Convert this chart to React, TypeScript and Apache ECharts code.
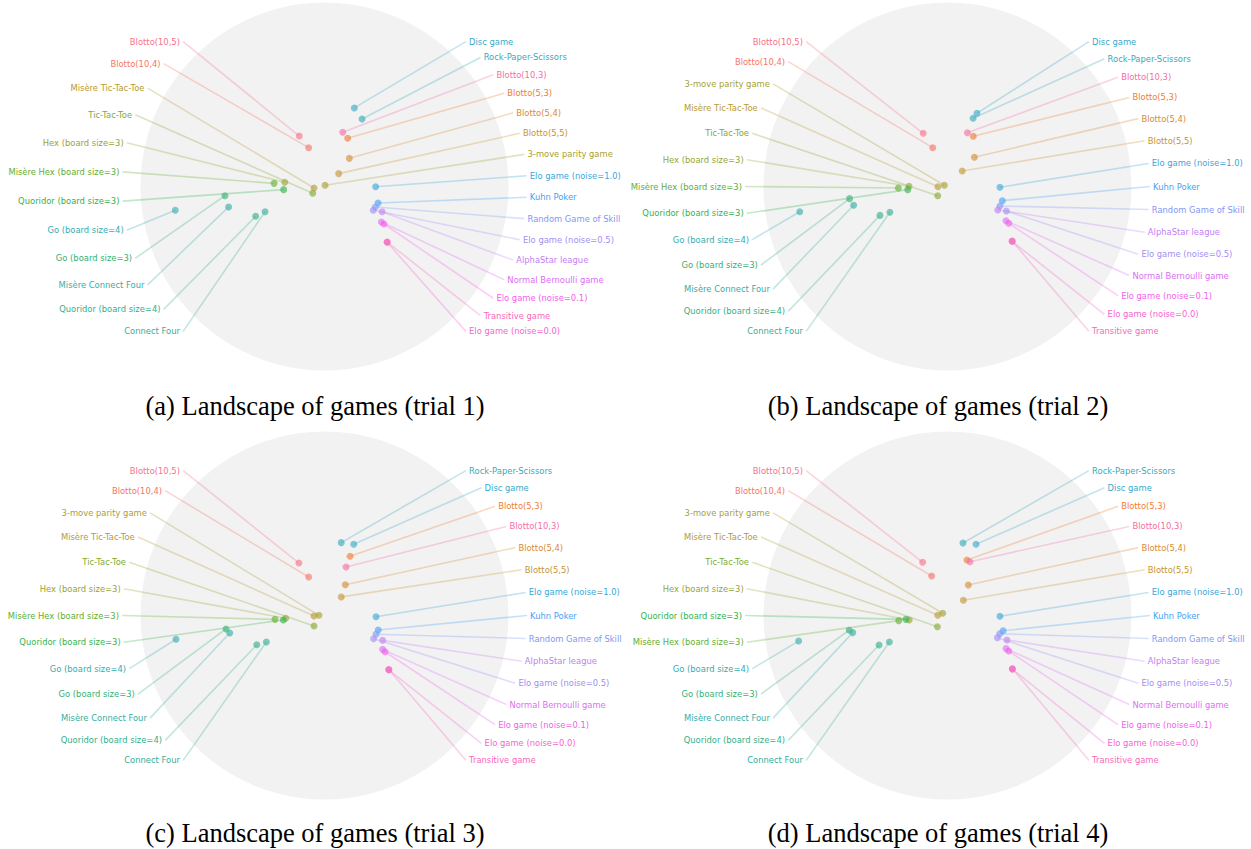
import React, { useEffect, useRef } from "react";
import * as echarts from "echarts";

// ---------------- DATA ----------------
// Games, ordered by their palette index (husl palette, 28 colours)
const GAMES = [
  "Blotto(10,5)", "Blotto(10,4)", "Blotto(5,3)", "Blotto(5,4)", "Blotto(5,5)",
  "Misère Tic-Tac-Toe", "3-move parity game", "Hex (board size=3)", "Tic-Tac-Toe",
  "Misère Hex (board size=3)", "Quoridor (board size=3)", "Go (board size=3)",
  "Quoridor (board size=4)", "Connect Four", "Misère Connect Four", "Go (board size=4)",
  "Rock-Paper-Scissors", "Disc game", "Elo game (noise=1.0)", "Kuhn Poker",
  "Random Game of Skill", "Elo game (noise=0.5)", "AlphaStar league",
  "Normal Bernoulli game", "Elo game (noise=0.1)", "Elo game (noise=0.0)",
  "Transitive game", "Blotto(10,3)",
];

// 2-D embedding of every game (same order as GAMES), one array per trial
const TRIAL_1 = [
  [-0.137, 0.274], [-0.086, 0.211], [0.126, 0.262], [0.135, 0.153], [0.077, 0.07],
  [-0.057, -0.008], [0.003, 0.007], [-0.216, 0.023], [-0.064, -0.037],
  [-0.274, 0.017], [-0.222, -0.017], [-0.541, -0.05],
  [-0.374, -0.162], [-0.323, -0.137], [-0.521, -0.111], [-0.811, -0.129],
  [0.204, 0.367], [0.162, 0.427], [0.278, -0.001], [0.291, -0.09],
  [0.276, -0.111], [0.265, -0.129], [0.313, -0.137],
  [0.309, -0.193], [0.323, -0.204], [0.34, -0.303],
  [0.341, -0.302], [0.099, 0.295],
];
const TRIAL_2 = [
  [-0.132, 0.289], [-0.08, 0.211], [0.14, 0.273], [0.146, 0.159], [0.08, 0.084],
  [-0.052, -0.001], [-0.017, 0.007], [-0.209, 0.001], [-0.053, -0.05],
  [-0.267, -0.008], [-0.216, -0.017], [-0.532, -0.066],
  [-0.367, -0.157], [-0.313, -0.14], [-0.51, -0.102], [-0.803, -0.137],
  [0.139, 0.371], [0.16, 0.398], [0.285, -0.004], [0.298, -0.077],
  [0.285, -0.106], [0.32, -0.133], [0.273, -0.128],
  [0.318, -0.186], [0.333, -0.2], [0.351, -0.298],
  [0.352, -0.297], [0.108, 0.292],
];
const TRIAL_3 = [
  [-0.139, 0.285], [-0.086, 0.209], [0.139, 0.322], [0.113, 0.167], [0.091, 0.101],
  [-0.057, -0.003], [-0.03, 0.001], [-0.211, -0.015], [-0.057, -0.057],
  [-0.269, -0.021], [-0.224, -0.024], [-0.535, -0.073],
  [-0.368, -0.159], [-0.316, -0.144], [-0.515, -0.095], [-0.807, -0.129],
  [0.091, 0.396], [0.159, 0.387], [0.28, -0.007], [0.292, -0.079],
  [0.28, -0.102], [0.267, -0.126], [0.316, -0.135],
  [0.316, -0.184], [0.329, -0.197], [0.349, -0.295],
  [0.35, -0.294], [0.117, 0.264],
];
const TRIAL_4 = [
  [-0.135, 0.289], [-0.086, 0.215], [0.106, 0.302], [0.113, 0.166], [0.086, 0.083],
  [-0.053, 0.001], [-0.026, 0.012], [-0.208, -0.024], [-0.055, -0.061],
  [-0.265, -0.028], [-0.226, -0.021], [-0.534, -0.08],
  [-0.372, -0.16], [-0.316, -0.144], [-0.515, -0.093], [-0.809, -0.139],
  [0.084, 0.394], [0.155, 0.387], [0.285, -0.004], [0.302, -0.083],
  [0.284, -0.099], [0.271, -0.121], [0.323, -0.133],
  [0.318, -0.18], [0.333, -0.193], [0.352, -0.291],
  [0.353, -0.29], [0.122, 0.292],
];

// Label order (top to bottom) on each side of each trial
const LEFT_1 = ["Blotto(10,5)", "Blotto(10,4)", "Misère Tic-Tac-Toe", "Tic-Tac-Toe", "Hex (board size=3)", "Misère Hex (board size=3)", "Quoridor (board size=3)", "Go (board size=4)", "Go (board size=3)", "Misère Connect Four", "Quoridor (board size=4)", "Connect Four"];
const RIGHT_1 = ["Disc game", "Rock-Paper-Scissors", "Blotto(10,3)", "Blotto(5,3)", "Blotto(5,4)", "Blotto(5,5)", "3-move parity game", "Elo game (noise=1.0)", "Kuhn Poker", "Random Game of Skill", "Elo game (noise=0.5)", "AlphaStar league", "Normal Bernoulli game", "Elo game (noise=0.1)", "Transitive game", "Elo game (noise=0.0)"];
const LEFT_2 = ["Blotto(10,5)", "Blotto(10,4)", "3-move parity game", "Misère Tic-Tac-Toe", "Tic-Tac-Toe", "Hex (board size=3)", "Misère Hex (board size=3)", "Quoridor (board size=3)", "Go (board size=4)", "Go (board size=3)", "Misère Connect Four", "Quoridor (board size=4)", "Connect Four"];
const RIGHT_2 = ["Disc game", "Rock-Paper-Scissors", "Blotto(10,3)", "Blotto(5,3)", "Blotto(5,4)", "Blotto(5,5)", "Elo game (noise=1.0)", "Kuhn Poker", "Random Game of Skill", "AlphaStar league", "Elo game (noise=0.5)", "Normal Bernoulli game", "Elo game (noise=0.1)", "Elo game (noise=0.0)", "Transitive game"];
const LEFT_3 = ["Blotto(10,5)", "Blotto(10,4)", "3-move parity game", "Misère Tic-Tac-Toe", "Tic-Tac-Toe", "Hex (board size=3)", "Misère Hex (board size=3)", "Quoridor (board size=3)", "Go (board size=4)", "Go (board size=3)", "Misère Connect Four", "Quoridor (board size=4)", "Connect Four"];
const RIGHT_3 = ["Rock-Paper-Scissors", "Disc game", "Blotto(5,3)", "Blotto(10,3)", "Blotto(5,4)", "Blotto(5,5)", "Elo game (noise=1.0)", "Kuhn Poker", "Random Game of Skill", "AlphaStar league", "Elo game (noise=0.5)", "Normal Bernoulli game", "Elo game (noise=0.1)", "Elo game (noise=0.0)", "Transitive game"];
const LEFT_4 = ["Blotto(10,5)", "Blotto(10,4)", "3-move parity game", "Misère Tic-Tac-Toe", "Tic-Tac-Toe", "Hex (board size=3)", "Quoridor (board size=3)", "Misère Hex (board size=3)", "Go (board size=4)", "Go (board size=3)", "Misère Connect Four", "Quoridor (board size=4)", "Connect Four"];
const RIGHT_4 = ["Rock-Paper-Scissors", "Disc game", "Blotto(5,3)", "Blotto(10,3)", "Blotto(5,4)", "Blotto(5,5)", "Elo game (noise=1.0)", "Kuhn Poker", "Random Game of Skill", "AlphaStar league", "Elo game (noise=0.5)", "Normal Bernoulli game", "Elo game (noise=0.1)", "Elo game (noise=0.0)", "Transitive game"];

const CAPTIONS = [
  "(a) Landscape of games (trial 1)",
  "(b) Landscape of games (trial 2)",
  "(c) Landscape of games (trial 3)",
  "(d) Landscape of games (trial 4)",
];

const TRIALS = [
  { xy: TRIAL_1, left: LEFT_1, right: RIGHT_1 },
  { xy: TRIAL_2, left: LEFT_2, right: RIGHT_2 },
  { xy: TRIAL_3, left: LEFT_3, right: RIGHT_3 },
  { xy: TRIAL_4, left: LEFT_4, right: RIGHT_4 },
];

// ---------------- LAYOUT / STYLE ----------------
const PANELS = [
  { cx: 324.5, cy: 186.5, capX: 315, capY: 406 },
  { cx: 947.5, cy: 186.5, capX: 938, capY: 406 },
  { cx: 324.5, cy: 615.5, capX: 315, capY: 833 },
  { cx: 947.5, cy: 615.5, capX: 938, capY: 833 },
];
const R = 184; // px per data unit (circle radius)
const XR = 1.6;
const RING = 1.1; // label ring radius in data units
const SPAN = 45.7; // label ring half angle, degrees
const LABEL_FONT = 8.4;

// husl (HSLuv) palette like seaborn's husl_palette(28)
const MM = [
  [3.240969941904521, -1.537383177570093, -0.498610760293],
  [-0.96924363628087, 1.87596750150772, 0.041555057407175],
  [0.055630079696993, -0.20397695888897, 1.056971514242878],
];
const KAPPA = 903.2962962;
const EPS = 0.0088564516;
function maxChroma(L: number, H: number) {
  const hr = (H / 360) * Math.PI * 2;
  const sub1 = Math.pow(L + 16, 3) / 1560896;
  const sub2 = sub1 > EPS ? sub1 : L / KAPPA;
  let min = Infinity;
  for (let c = 0; c < 3; c++) {
    const [m1, m2, m3] = MM[c];
    for (let t = 0; t < 2; t++) {
      const top1 = (284517 * m1 - 94839 * m3) * sub2;
      const top2 = (838422 * m3 + 769860 * m2 + 731718 * m1) * L * sub2 - 769860 * t * L;
      const bottom = (632260 * m3 - 126452 * m2) * sub2 + 126452 * t;
      const slope = top1 / bottom;
      const intercept = top2 / bottom;
      const len = intercept / (Math.sin(hr) - slope * Math.cos(hr));
      if (len >= 0) min = Math.min(min, len);
    }
  }
  return min;
}
function hsluv(H: number, S: number, L: number) {
  const C = (maxChroma(L, H) / 100) * S;
  const hr = (H / 180) * Math.PI;
  const U = Math.cos(hr) * C;
  const V = Math.sin(hr) * C;
  const refU = 0.19783000664283;
  const refV = 0.46831999493879;
  const varU = U / (13 * L) + refU;
  const varV = V / (13 * L) + refV;
  const Y = L <= 8 ? L / KAPPA : Math.pow((L + 16) / 116, 3);
  const X = 0 - (9 * Y * varU) / ((varU - 4) * varV - varU * varV);
  const Z = (9 * Y - 15 * varV * Y - varV * X) / (3 * varV);
  const f = (c: number) => (c <= 0.0031308 ? 12.92 * c : 1.055 * Math.pow(c, 1 / 2.4) - 0.055);
  const rgb = MM.map((r) => f(r[0] * X + r[1] * Y + r[2] * Z));
  return (
    "#" +
    rgb
      .map((v) => Math.round(Math.max(0, Math.min(1, v)) * 255).toString(16).padStart(2, "0"))
      .join("")
  );
}
const COLORS = GAMES.map((_, i) => hsluv((0.01 + i / GAMES.length) * 359, 89.1, 64.35));

function buildOption() {
  const grid: any[] = [];
  const xAxis: any[] = [];
  const yAxis: any[] = [];
  const series: any[] = [];
  const graphic: any[] = [];

  PANELS.forEach((p, k) => {
    grid.push({ left: p.cx - XR * R, top: p.cy - R, width: 2 * XR * R, height: 2 * R });
    xAxis.push({ type: "value", gridIndex: k, min: -XR, max: XR, show: false });
    yAxis.push({ type: "value", gridIndex: k, min: -1, max: 1, show: false });

    const trial = TRIALS[k];

    // background disc
    series.push({
      type: "custom",
      xAxisIndex: k,
      yAxisIndex: k,
      silent: true,
      z: 1,
      data: [[0, 0]],
      renderItem: (params: any, api: any) => {
        const c = api.coord([0, 0]);
        const s = api.size([1, 1]);
        return {
          type: "circle",
          shape: { cx: c[0], cy: c[1], r: s[0] },
          style: { fill: "#f2f2f2" },
        };
      },
    });

    // leader lines + labels
    const rows: any[] = [];
    const addSide = (names: string[], side: number) => {
      const n = names.length;
      names.forEach((name, i) => {
        const gi = GAMES.indexOf(name);
        const th = ((SPAN - (i * 2 * SPAN) / (n - 1)) * Math.PI) / 180;
        const ax = side * RING * Math.cos(th);
        const ay = RING * Math.sin(th);
        rows.push([trial.xy[gi][0], trial.xy[gi][1], ax, ay, gi, side]);
      });
    };
    addSide(trial.left, -1);
    addSide(trial.right, 1);

    series.push({
      type: "custom",
      xAxisIndex: k,
      yAxisIndex: k,
      silent: true,
      z: 2,
      data: rows,
      renderItem: (params: any, api: any) => {
        const pt = api.coord([api.value(0), api.value(1)]);
        const an = api.coord([api.value(2), api.value(3)]);
        const gi = api.value(4);
        const side = api.value(5);
        const color = COLORS[gi];
        return {
          type: "group",
          children: [
            {
              type: "line",
              shape: { x1: pt[0], y1: pt[1], x2: an[0], y2: an[1] },
              style: { stroke: color, lineWidth: 1.6, opacity: 0.3 },
            },
            {
              type: "text",
              x: an[0] + side * 3.2,
              y: an[1],
              style: {
                text: GAMES[gi],
                fill: color,
                align: side > 0 ? "left" : "right",
                verticalAlign: "middle",
                fontSize: LABEL_FONT,
                fontFamily: "DejaVu Sans",
              },
            },
          ],
        };
      },
    });

    // points
    series.push({
      type: "scatter",
      xAxisIndex: k,
      yAxisIndex: k,
      silent: true,
      z: 3,
      symbolSize: 7,
      data: trial.xy.map((v, gi) => ({
        value: v,
        itemStyle: { color: COLORS[gi], opacity: 0.62 },
      })),
    });

    graphic.push({
      type: "text",
      x: p.capX,
      y: p.capY,
      style: {
        text: CAPTIONS[k],
        fill: "#000",
        fontSize: 26.5,
        fontFamily: "Liberation Serif",
        align: "center",
        verticalAlign: "middle",
      },
    });
  });

  return {
    animation: false,
    backgroundColor: "#ffffff",
    grid,
    xAxis,
    yAxis,
    series,
    graphic,
  };
}

export default function App() {
  const ref = useRef<HTMLDivElement>(null);
  useEffect(() => {
    if (!ref.current) return;
    const chart = echarts.init(ref.current, undefined, { renderer: "svg" });
    chart.setOption(buildOption() as any);
    return () => chart.dispose();
  }, []);
  return (
    <div
      ref={ref}
      style={{ position: "absolute", left: 0, top: 0, width: 1251, height: 849, background: "#fff" }}
    />
  );
}
